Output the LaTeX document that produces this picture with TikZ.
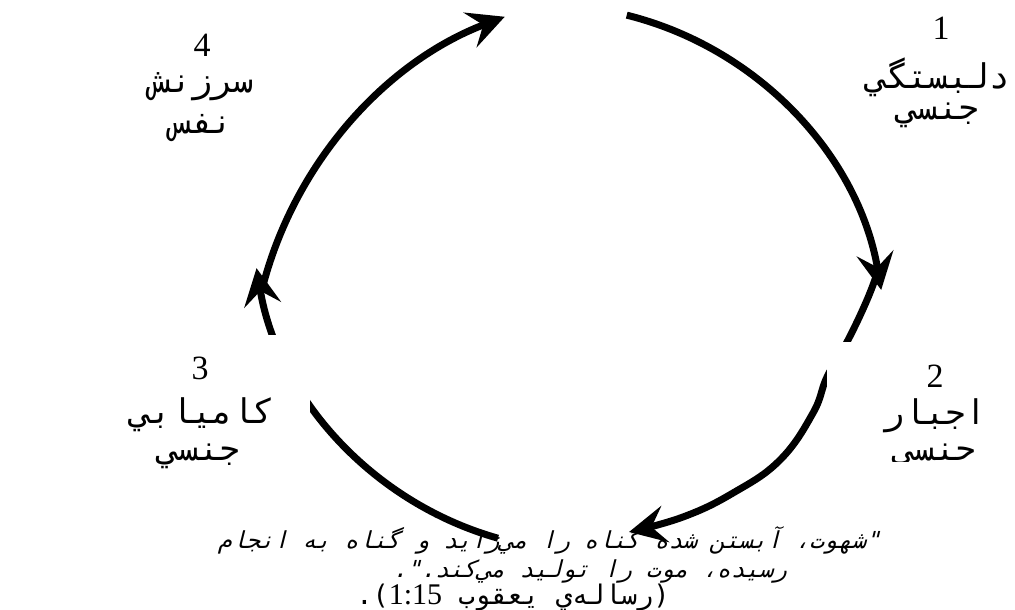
\documentclass[tikz,border=0pt]{standalone}
\usepackage{fontspec}
\setmainfont{Liberation Serif}
\newfontfamily\arfont[Script=Arabic]{DejaVu Sans Mono}
\newfontfamily\arfontit[Script=Arabic,FakeSlant=0.25]{DejaVu Sans Mono}
\TeXXeTstate=1
\newcommand\aw[1]{\hbox{#1}}
\usetikzlibrary{arrows.meta}
\begin{document}
\begin{tikzpicture}[x=1pt,y=-1pt,
  cyc/.style={line width=7pt, -{Stealth[length=37pt,width=37pt,inset=14pt]}},
  num/.style={font=\fontsize{34}{34}\selectfont, inner sep=0pt},
  lab/.style={font=\arfont\fontsize{34}{34}\selectfont, inner sep=0pt},
  quote/.style={font=\arfontit\fontsize{23.4}{23.4}\selectfont, inner sep=0pt},
  quoteup/.style={font=\arfont\fontsize{27}{27}\selectfont, inner sep=0pt},
  mask/.style={fill=white, draw=none}]
\useasboundingbox (0,0) rectangle (1015,610);
% arcs of the cycle
\draw[cyc] (544,347) ++(-76:342) arc[start angle=-76,end angle=-9.6,radius=342];
\draw[cyc] plot[smooth,tension=0.7] coordinates {(879,268) (867,300) (847,342) (827,377) (813,413) (780,460) (733,493) (683,517) (629,532)};
\draw[cyc] (590,213) ++(105.8:338) arc[start angle=105.8,end angle=170.6,radius=338];
\draw[cyc] (645,386) ++(195:395) arc[start angle=195,end angle=249.2,radius=395];
% label boxes hiding parts of the cycle
\fill[mask] (827,342) rectangle (1015,461);
\fill[mask] (0,335) rectangle (310,480);
% label 1
\node[num] (n1) at (941,28.5) {1};
\node[lab] (l1a) at (938,77) {دلبستگي};
\node[lab] (l1b) at (938,115) {جنسي};
% label 4
\node[num] (n4) at (202,45) {4};
\node[lab] (l4a) at (202,87) {سرزنش};
\node[lab] (l4b) at (202,128) {نفس};
% label 3
\node[num] (n3) at (200,368) {3};
\node[lab] (l3a) at (202,415) {كاميابي};
\node[lab] (l3b) at (199,456) {جنسي};
% label 2 (clipped by its box)
\begin{scope}
\clip (827,342) rectangle (1015,461);
\node[num] (n2) at (935,376) {2};
\node[lab] (l2a) at (935,416) {اجبار};
\node[lab] (l2b) at (935,456) {جنسي};
\end{scope}
% quotation (right to left)
\node[quote] (q1) at (549,540) {\beginR\aw{"}\aw{شهوت}\aw{،} \aw{آبستن} \aw{شده} \aw{گناه} \aw{را} \aw{مي‌زايد} \aw{و} \aw{گناه} \aw{به} \aw{انجام}\endR};
\node[quote] (q2) at (590,571) {\beginR\aw{رسيده}\aw{،} \aw{موت} \aw{را} \aw{توليد} \aw{مي‌كند}\aw{.}\aw{"}\aw{.}\endR};
\node[quoteup] (q3) at (513,598) {\beginR\aw{(}\aw{رساله‌ي} \aw{يعقوب} \aw{\rmfamily\fontsize{30}{30}\selectfont 1:15}\aw{)}\aw{.}\endR};
\end{tikzpicture}
\end{document}
